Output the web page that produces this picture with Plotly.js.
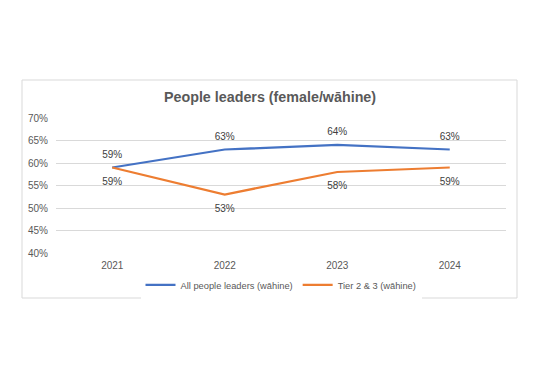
<!DOCTYPE html>
<html><head><meta charset="utf-8">
<script src="https://cdn.plot.ly/plotly-3.0.1.min.js"></script>
<style>html,body{margin:0;padding:0;background:#fff;}#chart{width:540px;height:380px;}</style>
</head><body><div id="chart"></div>
<script>
const years = ["2021", "2022", "2023", "2024"];
const allLeaders = [0.59, 0.63, 0.64, 0.63];
const tier23 = [0.59, 0.53, 0.58, 0.59];
const seriesNames = ["All people leaders (wāhine)", "Tier 2 & 3 (wāhine)"];
const yTicks = [0.40, 0.45, 0.50, 0.55, 0.60, 0.65, 0.70];

const fmt = v => Math.round(v * 100) + "%";
const traces = [
  {x: years, y: allLeaders, name: seriesNames[0], type: "scatter", mode: "lines+markers+text",
   line: {color: "#4472C4", width: 2.25}, marker: {size: 10, color: "rgba(0,0,0,0)"},
   text: allLeaders.map(fmt), textposition: "top center",
   textfont: {size: 10, color: "#404040"}, cliponaxis: false, hoverinfo: "none"},
  {x: years, y: tier23, name: seriesNames[1], type: "scatter", mode: "lines+markers+text",
   line: {color: "#ED7D31", width: 2.25}, marker: {size: 14, color: "rgba(0,0,0,0)"},
   text: tier23.map(fmt), textposition: "bottom center",
   textfont: {size: 10, color: "#404040"}, cliponaxis: false, hoverinfo: "none"}
];
const layout = {
  width: 540, height: 380,
  margin: {l: 56, r: 34, t: 118, b: 127},
  paper_bgcolor: "#fff", plot_bgcolor: "#fff",
  font: {family: "Liberation Sans, Arial, sans-serif", color: "#595959", size: 10},
  title: {text: "<b>People leaders (female/wāhine)</b>", font: {size: 14.3, color: "#595959"},
          x: 0.5, xanchor: "center", y: 1 - 97/380, yanchor: "middle", yref: "container"},
  xaxis: {type: "category", range: [-0.5, 3.5], showgrid: false, zeroline: false, showline: false,
          ticks: "", ticklabelstandoff: 5, tickfont: {size: 10, color: "#595959"}, fixedrange: true},
  yaxis: {range: [0.40, 0.70], tickvals: yTicks, ticktext: yTicks.map(fmt), showgrid: true,
          gridcolor: "#d9d9d9", gridwidth: 1, zeroline: false, showline: false, ticks: "",
          ticklabelstandoff: 7, tickfont: {size: 10, color: "#595959"}, fixedrange: true},
  showlegend: true,
  legend: {orientation: "h", x: 0.5, xanchor: "center", y: -0.237, yanchor: "middle",
           font: {size: 9.3, color: "#595959"}, itemwidth: 30, traceorder: "normal"},
  shapes: [{type: "rect", xref: "paper", yref: "paper",
            x0: (22-56)/450, x1: (517-56)/450, y0: (253-298)/135, y1: (253-80)/135,
            line: {color: "#d9d9d9", width: 1}, fillcolor: "rgba(0,0,0,0)", layer: "below"}]
};
Plotly.newPlot("chart", traces, layout, {displayModeBar: false, staticPlot: true});
</script></body></html>
